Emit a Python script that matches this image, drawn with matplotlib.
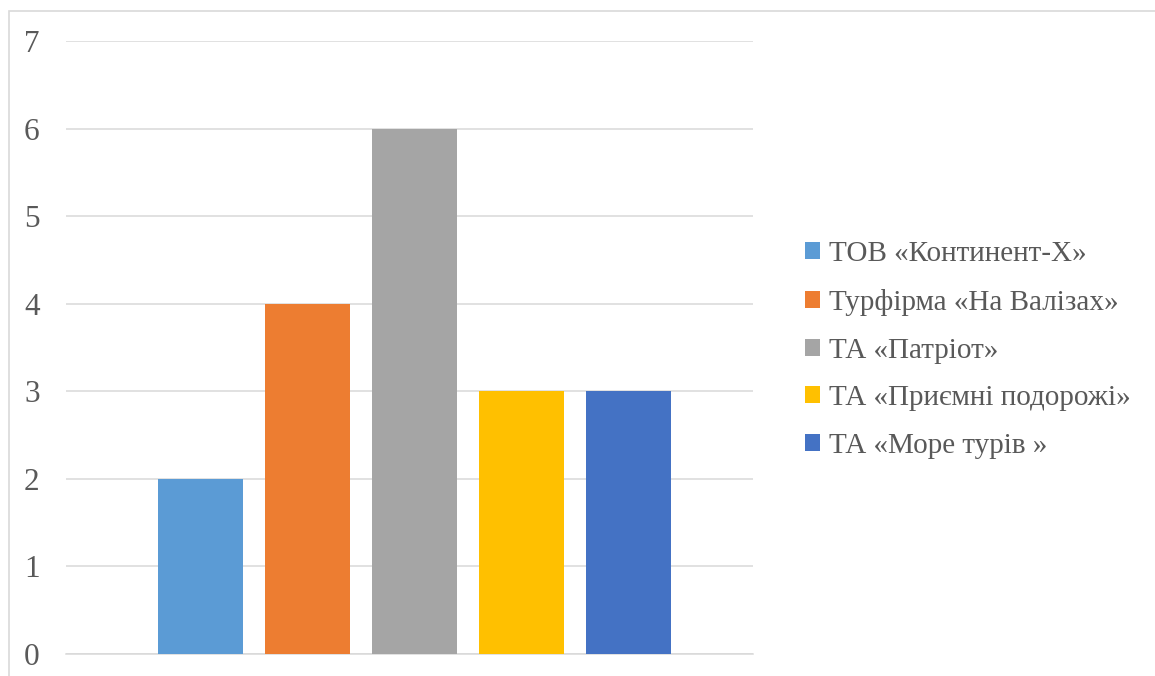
import matplotlib.pyplot as plt
from matplotlib.patches import Rectangle

agencies = ["ТОВ «Континент-Х»", "Турфірма «На Валізах»", "ТА «Патріот»",
            "ТА «Приємні подорожі»", "ТА «Море турів »"]
values = [2, 4, 6, 3, 3]
colors = ["#5B9BD5", "#ED7D31", "#A5A5A5", "#FFC000", "#4472C4"]
yticks = [0, 1, 2, 3, 4, 5, 6, 7]

plt.rcParams['font.family'] = ['Liberation Serif', 'DejaVu Serif']

fig = plt.figure(figsize=(11.55, 6.76), dpi=100)
ax = fig.add_axes([66 / 1155, 1 - 654 / 676, (753 - 66) / 1155, (654 - 41) / 676])

for i, (name, v, c) in enumerate(zip(agencies, values, colors)):
    ax.bar(i, v, width=0.794, color=c, label=name, zorder=3)

ax.set_xlim(-1.257, 5.163)
ax.set_ylim(0, 7)
ax.set_yticks(yticks)
ax.set_xticks([])
ax.yaxis.grid(True, color="#D9D9D9", linewidth=1.1, zorder=0)
for s in ["top", "right", "left"]:
    ax.spines[s].set_visible(False)
ax.spines["bottom"].set_color("#D9D9D9")
ax.spines["bottom"].set_linewidth(1.1)
ax.tick_params(axis="y", length=0, pad=19, labelsize=22.5, labelcolor="#595959")

fig.legend(loc="center left", bbox_to_anchor=(779 / 1155, 1 - 350 / 676),
           frameon=False, fontsize=21, labelcolor="#595959",
           handlelength=0.52, handleheight=0.52, handletextpad=0.3,
           labelspacing=0.74)

# outer chart border
fig.patches.append(Rectangle((9 / 1155, -0.05), 1.1, 1 - 11 / 676 + 0.05,
                             transform=fig.transFigure, fill=False,
                             edgecolor="#D9D9D9", linewidth=1.2))

fig.savefig("out.png", dpi=100)
